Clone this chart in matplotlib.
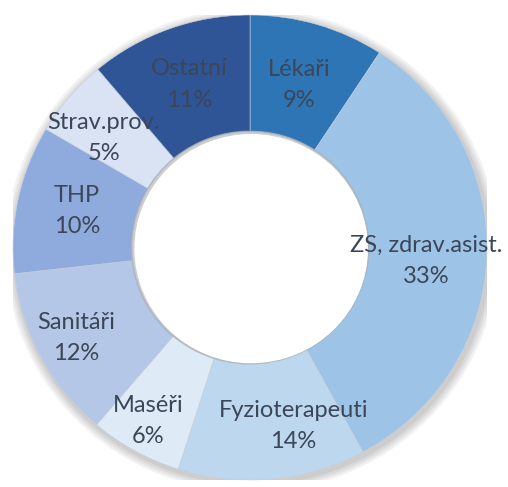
import numpy as np
import matplotlib.pyplot as plt
from matplotlib.patches import Circle

categories = ["Lékaři", "ZS, zdrav.asist.", "Fyzioterapeuti", "Maséři",
              "Sanitáři", "THP", "Strav.prov.", "Ostatní"]
# slice sizes as drawn, and the percent labels printed on them
shares = [9.2, 32.9, 12.8, 6.3, 12.0, 10.3, 5.4, 11.1]
pct_labels = ["9%", "33%", "14%", "6%", "12%", "10%", "5%", "11%"]
colors = ["#2E75B6", "#9DC3E6", "#BDD7EE", "#DEEBF7",
          "#B4C7E7", "#8FAADC", "#DAE3F3", "#2F5597"]

# label placement (radius in ring units, clockwise nudge in degrees)
lab_r = [0.73, 0.745, 0.79, 0.86, 0.83, 0.746, 0.775, 0.746]
lab_nudge = [0, 2, -8, 1, 0, 0, -3, 0]

plt.rcParams['font.family'] = ['Lato', 'DejaVu Sans']

fig = plt.figure(figsize=(5.08, 4.87), dpi=100)
ax = fig.add_axes([13/508, 7/487, 474/508, 465/487])

# soft shadow behind the ring
for i in range(4):
    ax.add_patch(Circle((0.008, -0.012), 1.0 + 0.01*(i+1), color='black', alpha=0.05, lw=0, zorder=0))

wedges, _ = ax.pie(shares, colors=colors, startangle=90, counterclock=False,
                   wedgeprops=dict(width=0.5, linewidth=0.4, edgecolor='#c8d0dc'))

for w, cat, pct, r, d in zip(wedges, categories, pct_labels, lab_r, lab_nudge):
    ang = np.deg2rad((w.theta1 + w.theta2) / 2 - d)
    ax.text(r*np.cos(ang), r*np.sin(ang), f"{cat}\n{pct}", ha='center', va='center',
            fontsize=17, color='#3B4658', linespacing=1.6, zorder=5)

# inner hole with a faint shadow edge
ax.add_patch(Circle((0, 0), 0.5, facecolor='none', edgecolor='#9aa3ad', lw=1.2, alpha=0.5, zorder=2))
ax.add_patch(Circle((0.005, -0.005), 0.493, color='white', lw=0, zorder=3))

ax.set_aspect('auto')
ax.set_xlim(-1, 1)
ax.set_ylim(-1, 1)
ax.axis('off')
fig.savefig('out.png', dpi=100)
